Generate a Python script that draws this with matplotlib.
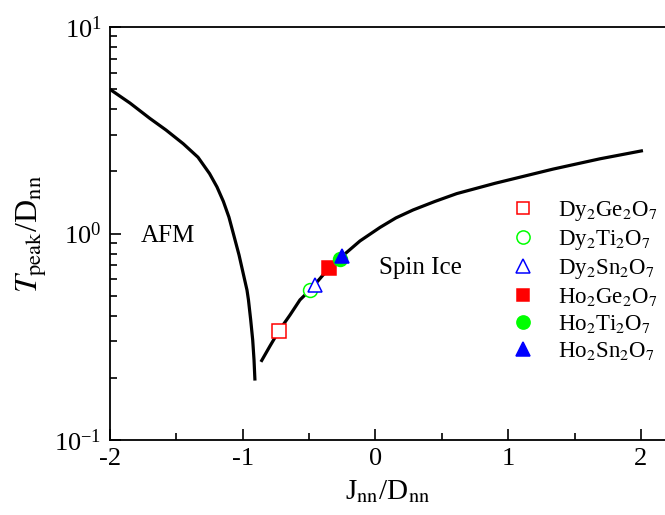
import numpy as np
import matplotlib
matplotlib.use('Agg')
import matplotlib.pyplot as plt
from matplotlib.lines import Line2D
from matplotlib.ticker import LogLocator, MultipleLocator, NullFormatter

plt.rcParams['font.family'] = ['Liberation Serif', 'DejaVu Serif']
plt.rcParams['mathtext.fontset'] = 'stix'
plt.rcParams['axes.unicode_minus'] = False

# AFM branch
afm_x = [-2.0, -1.849, -1.70, -1.578, -1.448, -1.337, -1.25, -1.194, -1.146,
         -1.104, -1.071, -1.028, -0.991, -0.968, -0.957, -0.940, -0.925, -0.915, -0.908]
afm_y = [4.99, 4.28, 3.61, 3.17, 2.72, 2.34, 1.95, 1.68, 1.43,
         1.20, 1.00, 0.787, 0.618, 0.532, 0.477, 0.381, 0.305, 0.244, 0.194]

# spin ice branch
si_x = [-0.863, -0.795, -0.727, -0.644, -0.569, -0.49, -0.35, -0.267, -0.117,
        0.034, 0.154, 0.283, 0.448, 0.612, 0.90, 1.337, 1.691, 2.015]
si_y = [0.239, 0.285, 0.338, 0.403, 0.477, 0.535, 0.68, 0.76, 0.92,
        1.07, 1.19, 1.30, 1.43, 1.56, 1.75, 2.05, 2.30, 2.52]

# materials
names = ['Dy$_2$Ge$_2$O$_7$', 'Dy$_2$Ti$_2$O$_7$', 'Dy$_2$Sn$_2$O$_7$',
         'Ho$_2$Ge$_2$O$_7$', 'Ho$_2$Ti$_2$O$_7$', 'Ho$_2$Sn$_2$O$_7$']
mat_x = [-0.727, -0.493, -0.456, -0.35, -0.267, -0.255]
mat_y = [0.338, 0.532, 0.563, 0.683, 0.753, 0.778]
colors = ['#ff0000', '#00ff00', '#0000ff', '#ff0000', '#00ff00', '#0000ff']
markers = ['s', 'o', '^', 's', 'o', '^']
filled = [False, False, False, True, True, True]
msizes = [9.5, 10, 10.5, 9.5, 10, 10.5]

fig = plt.figure(figsize=(6.65, 5.15), dpi=100)
ax = fig.add_axes([110/665, 1-440/515, 1-110/665, (440-27)/515])

ax.plot(afm_x, afm_y, color='black', lw=2.3, solid_capstyle='butt')
ax.plot(si_x, si_y, color='black', lw=2.3, solid_capstyle='butt')

handles = []
for i in range(len(names)):
    fc = colors[i] if filled[i] else 'white'
    ax.plot([mat_x[i]], [mat_y[i]], marker=markers[i], ms=msizes[i],
            mfc=fc, mec=colors[i], mew=1.1, ls='none', zorder=3)
    handles.append(Line2D([], [], marker=markers[i], ms=msizes[i] - 0.5,
                          mfc=fc, mec=colors[i], mew=1.1, ls='none',
                          label=names[i]))

ax.set_yscale('log')
ax.set_xlim(-2, 2.181)
ax.set_ylim(0.1, 10)

ax.xaxis.set_major_locator(MultipleLocator(1))
ax.xaxis.set_minor_locator(MultipleLocator(0.5))
ax.yaxis.set_major_locator(LogLocator(base=10))
ax.yaxis.set_minor_locator(LogLocator(base=10, subs=np.arange(2, 10)))
ax.yaxis.set_minor_formatter(NullFormatter())

ax.tick_params(which='both', direction='in', top=False, right=False, labelsize=19, pad=6)
ax.tick_params(which='major', length=8, width=1.2)
ax.tick_params(which='minor', length=5, width=1.2)
ax.spines['right'].set_visible(False)
for s in ['left', 'bottom', 'top']:
    ax.spines[s].set_linewidth(1.3)

ax.set_xlabel('J$_{\\rm nn}$/D$_{\\rm nn}$', fontsize=21, labelpad=6)
ax.set_ylabel('$T_{\\rm peak}$/D$_{\\rm nn}$', fontsize=23, labelpad=4)

fig.text(168/665, 1-236/515, 'AFM', fontsize=18, ha='center', va='center')
fig.text(420/665, 1-268/515, 'Spin Ice', fontsize=18, ha='center', va='center')

ax.legend(handles=handles, loc='upper left', bbox_to_anchor=(512/665, 1-199/515),
          bbox_transform=fig.transFigure, frameon=False, fontsize=16.5,
          handlelength=1.0, handletextpad=1.0, labelspacing=0.22,
          borderpad=0, borderaxespad=0, numpoints=1)

fig.savefig('out.png', dpi=100)
